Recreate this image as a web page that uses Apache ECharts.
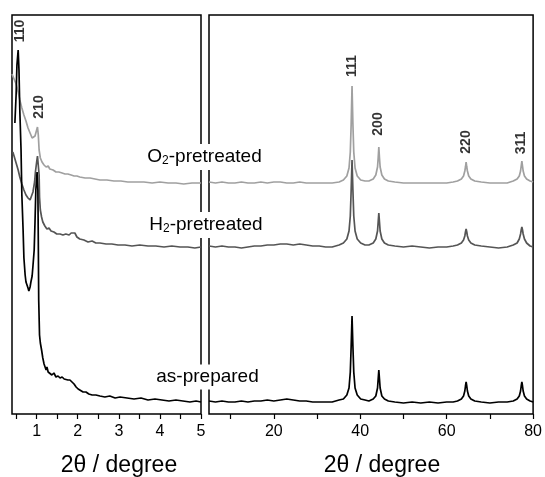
<!DOCTYPE html>
<html>
<head>
<meta charset="utf-8">
<script src="https://cdn.jsdelivr.net/npm/echarts@6/dist/echarts.min.js"></script>
<style>html,body{margin:0;padding:0;background:#fff}#c{width:545px;height:477px}</style>
</head>
<body>
<div id="c"></div>
<script>
// ---- data: [2θ (degree), intensity (a.u., offset stacked)] ----
var asPreparedLow = [[0.47,291],[0.50,319],[0.52,349],[0.55,364],[0.57,344],[0.59,304],[0.62,264],[0.64,219],[0.67,184],[0.69,156],[0.72,139],[0.74,132],[0.76,130],[0.79,126],[0.81,123],[0.84,127],[0.86,132],[0.89,138],[0.91,148],[0.94,164],[0.96,192],[0.98,224],[1.01,242],[1.03,224],[1.04,174],[1.05,114],[1.07,79],[1.09,71],[1.12,64],[1.15,56],[1.18,50],[1.20,48],[1.23,44],[1.25,47],[1.28,42],[1.32,41],[1.37,39],[1.42,41],[1.47,37],[1.52,38],[1.57,36],[1.62,37],[1.67,35],[1.71,36],[1.76,34],[1.81,34],[1.86,32],[1.91,30],[1.96,27],[2.01,25],[2.05,24],[2.13,22],[2.20,22],[2.27,20],[2.35,19],[2.44,19],[2.54,18],[2.66,17],[2.78,18],[2.91,16],[3.03,17],[3.20,16],[3.37,15],[3.54,16],[3.71,14],[3.88,15],[4.05,14],[4.22,13],[4.39,14],[4.56,13],[4.73,12],[4.88,13],[5.0,12]];
var h2Low = [[0.42,262],[0.45,258],[0.50,251],[0.55,244],[0.59,237],[0.64,230],[0.69,224],[0.74,219],[0.79,216],[0.84,214],[0.87,216],[0.91,222],[0.95,232],[0.97,242],[1.00,252],[1.02,258],[1.04,256],[1.06,239],[1.07,217],[1.09,204],[1.12,197],[1.15,192],[1.20,188],[1.25,185],[1.30,186],[1.35,183],[1.42,182],[1.49,180],[1.57,180],[1.64,179],[1.71,180],[1.79,179],[1.84,181],[1.88,183],[1.93,181],[1.98,177],[2.05,175],[2.15,174],[2.25,172],[2.35,173],[2.44,171],[2.54,171],[2.69,170],[2.83,170],[2.98,169],[3.15,169],[3.32,168],[3.51,169],[3.71,168],[3.90,168],[4.10,167],[4.29,168],[4.49,167],[4.68,167],[4.85,166],[5.0,167]];
var o2Low = [[0.40,340],[0.45,335],[0.50,330],[0.55,322],[0.59,314],[0.64,306],[0.69,299],[0.74,293],[0.79,286],[0.84,281],[0.89,276],[0.92,275],[0.96,278],[1.00,284],[1.02,287],[1.04,279],[1.06,264],[1.09,256],[1.13,252],[1.18,249],[1.23,247],[1.28,248],[1.32,245],[1.40,244],[1.47,242],[1.54,242],[1.62,241],[1.69,240],[1.76,240],[1.84,239],[1.91,238],[1.98,238],[2.05,237],[2.18,236],[2.30,236],[2.42,235],[2.54,234],[2.71,234],[2.88,233],[3.05,233],[3.22,232],[3.42,232],[3.61,232],[3.81,231],[4.00,232],[4.20,231],[4.39,231],[4.58,230],[4.78,231],[5.0,231]];
var asPreparedHigh = [[5,13],[6.5,12],[8,13],[9.5,12],[11,12],[12.5,13],[14,12],[15.5,13],[17,13],[18.5,14],[20,13],[21.5,14],[23,15],[24.5,14],[26,13],[27.5,13],[29,12],[30.5,12],[32,12],[33.5,12],[35.1,14],[36.1,15],[36.9,19],[37.4,26],[37.7,42],[37.9,68],[38.1,98],[38.3,68],[38.5,42],[38.8,26],[39.3,19],[40.1,15],[41.1,14],[42,13],[43,15],[43.6,18],[44.0,26],[44.15,35],[44.3,44],[44.45,35],[44.6,26],[45.0,18],[45.6,15],[46.5,13],[48,12],[50,11],[52,12],[54,11],[56,12],[58,11],[60,12],[61.5,12],[62.5,13],[63.4,15],[63.9,18],[64.2,23],[64.35,28],[64.5,32],[64.65,28],[64.8,23],[65.1,18],[65.6,15],[66.5,13],[68,12],[70,11],[72,12],[74,12],[75.4,13],[76.3,15],[76.8,18],[77.1,23],[77.25,28],[77.4,32],[77.55,28],[77.7,23],[78.0,18],[78.5,15],[79.3,13],[80,12]];
var h2High = [[5,168],[6.5,167],[8,168],[9.5,167],[11,167],[12.5,166],[14,167],[15.5,168],[17,168],[18.5,169],[20,169],[21.5,170],[23,170],[24.5,169],[26,170],[27.5,169],[29,168],[30.5,168],[32,167],[33.5,167],[35.1,169],[36.1,171],[36.9,175],[37.4,183],[37.7,198],[37.9,224],[38.1,254],[38.3,224],[38.5,198],[38.8,183],[39.3,175],[40.1,171],[41.1,169],[42,169],[43,171],[43.6,175],[44.0,183],[44.15,192],[44.3,201],[44.45,192],[44.6,183],[45.0,175],[45.6,171],[46.5,169],[48,168],[50,167],[52,168],[54,167],[56,166],[58,167],[60,167],[61.5,168],[62.5,169],[63.4,171],[63.9,174],[64.2,178],[64.35,182],[64.5,185],[64.65,182],[64.8,178],[65.1,174],[65.6,171],[66.5,169],[68,168],[70,167],[72,166],[74,167],[75.4,169],[76.3,171],[76.8,175],[77.1,180],[77.25,184],[77.4,187],[77.55,184],[77.7,180],[78.0,175],[78.5,171],[79.3,168],[80,167]];
var o2High = [[5,232],[6.5,231],[8,232],[9.5,231],[11,231],[12.5,232],[14,231],[15.5,231],[17,232],[18.5,231],[20,232],[21.5,232],[23,231],[24.5,231],[26,232],[27.5,231],[29,231],[30.5,231],[32,231],[33.5,231],[35.1,232],[36.1,234],[36.9,238],[37.4,246],[37.7,262],[37.9,290],[38.1,328],[38.3,290],[38.5,262],[38.8,246],[39.3,238],[40.1,234],[41.1,233],[42,233],[43,235],[43.6,239],[44.0,247],[44.15,256],[44.3,267],[44.45,256],[44.6,247],[45.0,239],[45.6,235],[46.5,233],[48,232],[50,231],[52,231],[54,231],[56,231],[58,231],[60,231],[61.5,232],[62.5,233],[63.4,235],[63.9,238],[64.2,243],[64.35,247],[64.5,252],[64.65,247],[64.8,243],[65.1,238],[65.6,235],[66.5,233],[68,232],[70,231],[72,231],[74,231],[75.4,233],[76.3,235],[76.8,238],[77.1,243],[77.25,248],[77.4,253],[77.55,248],[77.7,243],[78.0,238],[78.5,235],[79.3,233],[80,232]];
// peak (hkl) labels: [2θ, intensity, text]
var peakLabelsLow = [[0.59,383,'110'],[1.06,307,'210']];
var peakLabelsHigh = [[38.09,348,'111'],[44.2,290,'200'],[64.49,272,'220'],[77.17,271,'311']];
// axis ticks
var lowTicks = [0.5,1,1.5,2,2.5,3,3.5,4,4.5,5];
var lowLabels = [1,2,3,4,5];
var highTicks = [10,20,30,40,50,60,70,80];
var highLabels = [20,40,60,80];
var sampleNames = ['O2-pretreated','H2-pretreated','as-prepared'];
var axisTitle = '2θ / degree';

var FONT = '"Liberation Sans", Arial, sans-serif';
var chart = echarts.init(document.getElementById('c'), null, {renderer:'canvas'});

function xAx(idx, min, max, ticks, labels){
  return {type:'value', gridIndex:idx, min:min, max:max,
    axisLine:{show:false},
    axisTick:{show:true, inside:false, length:5, customValues:ticks, lineStyle:{color:'#000', width:1.2}},
    axisLabel:{show:true, customValues:labels, margin:10, color:'#000', fontSize:16, fontFamily:FONT},
    splitLine:{show:false}};
}
function yAx(idx){
  return {type:'value', gridIndex:idx, min:0, max:399, show:false, splitLine:{show:false}};
}
function line(data, xi, color){
  return {type:'line', xAxisIndex:xi, yAxisIndex:xi, data:data, symbol:'none', animation:false,
    lineStyle:{color:color, width:1.7}, z:3};
}
function labels(arr, xi){
  return {type:'scatter', xAxisIndex:xi, yAxisIndex:xi, symbolSize:0, silent:true, animation:false,
    data:arr.map(function(d){return {value:[d[0],d[1]], name:d[2]};}),
    label:{show:true, position:'inside', rotate:90, formatter:function(p){return p.name;},
      color:'#000', fontSize:14, fontWeight:'bold', fontFamily:FONT}, z:5};
}
var BLACK='#000000', DARK='#555555', LIGHT='#a0a0a0';

function sampleText(name){
  var m = name.match(/^([A-Z])(\d)(.*)$/);
  if (m) return '{n|'+m[1]+'}{s|'+m[2]+'}{n|'+m[3]+'}';
  return '{n|'+name+'}';
}
var rich = {n:{fontSize:19, fontFamily:FONT, fill:'#000'}, s:{fontSize:12, fontFamily:FONT, fill:'#000', padding:[8,0,0,0]}};

chart.setOption({
  backgroundColor:'#fff',
  animation:false,
  grid:[
    {left:12, top:15, width:189, height:399, show:true, borderColor:'#000', borderWidth:1.5, backgroundColor:'transparent'},
    {left:209, top:15, width:325, height:399, show:true, borderColor:'#000', borderWidth:1.5, backgroundColor:'transparent'}
  ],
  xAxis:[xAx(0,0.4,5,lowTicks,lowLabels), xAx(1,5,80,highTicks,highLabels)],
  yAxis:[yAx(0), yAx(1)],
  series:[
    line(o2Low,0,LIGHT), line(h2Low,0,DARK), line(asPreparedLow,0,BLACK),
    line(o2High,1,LIGHT), line(h2High,1,DARK), line(asPreparedHigh,1,BLACK),
    labels(peakLabelsLow,0), labels(peakLabelsHigh,1)
  ],
  graphic:[
    {type:'text', x:204.5, y:157, z:100, style:{text:sampleText(sampleNames[0]), rich:rich, align:'center', verticalAlign:'middle', backgroundColor:'#fff', padding:[3,2,3,2]}},
    {type:'text', x:206, y:225, z:100, style:{text:sampleText(sampleNames[1]), rich:rich, align:'center', verticalAlign:'middle', backgroundColor:'#fff', padding:[3,2,3,2]}},
    {type:'text', x:207.5, y:377, z:100, style:{text:sampleText(sampleNames[2]), rich:rich, align:'center', verticalAlign:'middle', backgroundColor:'#fff', padding:[3,2,3,2]}},
    {type:'text', x:119, y:466, z:100, style:{text:axisTitle, font:'23px '+FONT, fill:'#000', align:'center', verticalAlign:'middle'}},
    {type:'text', x:382, y:466, z:100, style:{text:axisTitle, font:'23px '+FONT, fill:'#000', align:'center', verticalAlign:'middle'}}
  ]
});
</script>
</body>
</html>
